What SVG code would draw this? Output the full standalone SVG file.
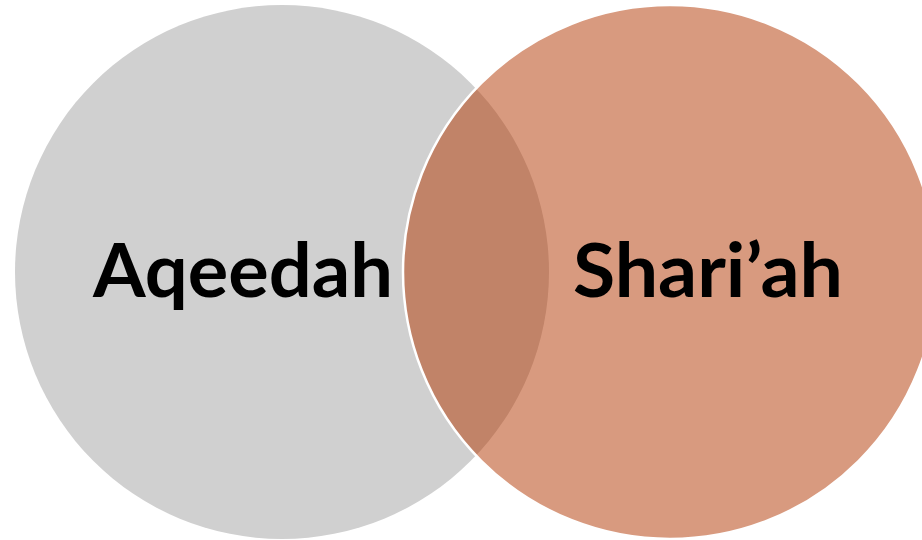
<svg xmlns="http://www.w3.org/2000/svg" width="922" height="540" viewBox="0 0 922 540">
<style>
.lbl{font-family:Lato,"Open Sans","Liberation Sans",sans-serif;font-weight:bold;font-size:75px;fill:#000;text-anchor:middle}
</style>
<rect width="922" height="540" fill="#fff"/>
<g id="aqeedah">
<circle cx="282" cy="272" r="267" fill="#D0D0D0"/>
</g>
<g id="shariah">
<circle cx="670" cy="272" r="267" fill="rgb(178,54,0)" fill-opacity="0.5" stroke="#fff" stroke-width="2.5"/>
</g>
<g id="labels">
<text class="lbl" x="243" y="297" textLength="300" lengthAdjust="spacingAndGlyphs">Aqeedah</text>
<text class="lbl" x="708" y="297" textLength="270" lengthAdjust="spacingAndGlyphs">Shari’ah</text>
</g>
</svg>
